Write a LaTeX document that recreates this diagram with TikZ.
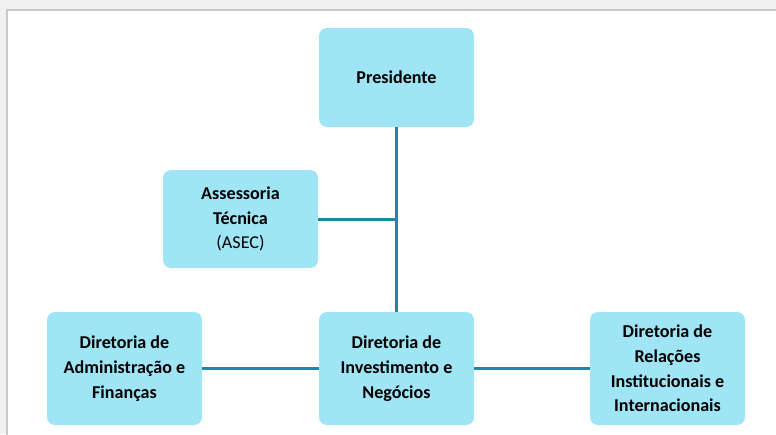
\documentclass[tikz,border=0pt]{standalone}
\usepackage{fontspec}
\setmainfont{Carlito}
\definecolor{boxfill}{HTML}{9FE5F5}
\definecolor{linkcol}{HTML}{1B8AA6}
\definecolor{pagebg}{HTML}{F0F0F0}
\definecolor{pageedge}{HTML}{C9C9C9}
\begin{document}
\begin{tikzpicture}[x=1pt,y=-1pt,
  orgbox/.style={fill=boxfill, draw=none, rounded corners=8pt, minimum width=155pt,
    align=center, inner sep=0pt, font=\fontsize{18.1}{24.8}\selectfont\bfseries},
  link/.style={draw=linkcol, line width=3pt}]
\useasboundingbox (0,0) rectangle (776,434);
\fill[pagebg] (0,0) rectangle (776,434);
\filldraw[fill=white, draw=pageedge, line width=1.2pt] (7,10) rectangle (790,450);
\node[orgbox, minimum height=99pt] (pres) at (396.5,77.5) {Presidente};
\node[orgbox, minimum height=98pt] (asec) at (240.5,219) {Assessoria\\Técnica\\\mdseries(ASEC)};
\node[orgbox, minimum height=113pt] (daf) at (124.5,368.5) {Diretoria de\\Administração e\\Finanças};
\node[orgbox, minimum height=113pt] (din) at (396.5,368.5) {Diretoria de\\Investimento e\\Negócios};
\node[orgbox, minimum height=113pt] (dri) at (667.5,368.5) {Diretoria de\\Relações\\Institucionais e\\Internacionais};
\coordinate (j) at (pres.south |- asec.east);
\draw[link] (pres.south) -- (din.north);
\draw[link] (asec.east) -- (j);
\draw[link] (daf.east) -- (din.west);
\draw[link] (din.east) -- (dri.west);
\end{tikzpicture}
\end{document}
